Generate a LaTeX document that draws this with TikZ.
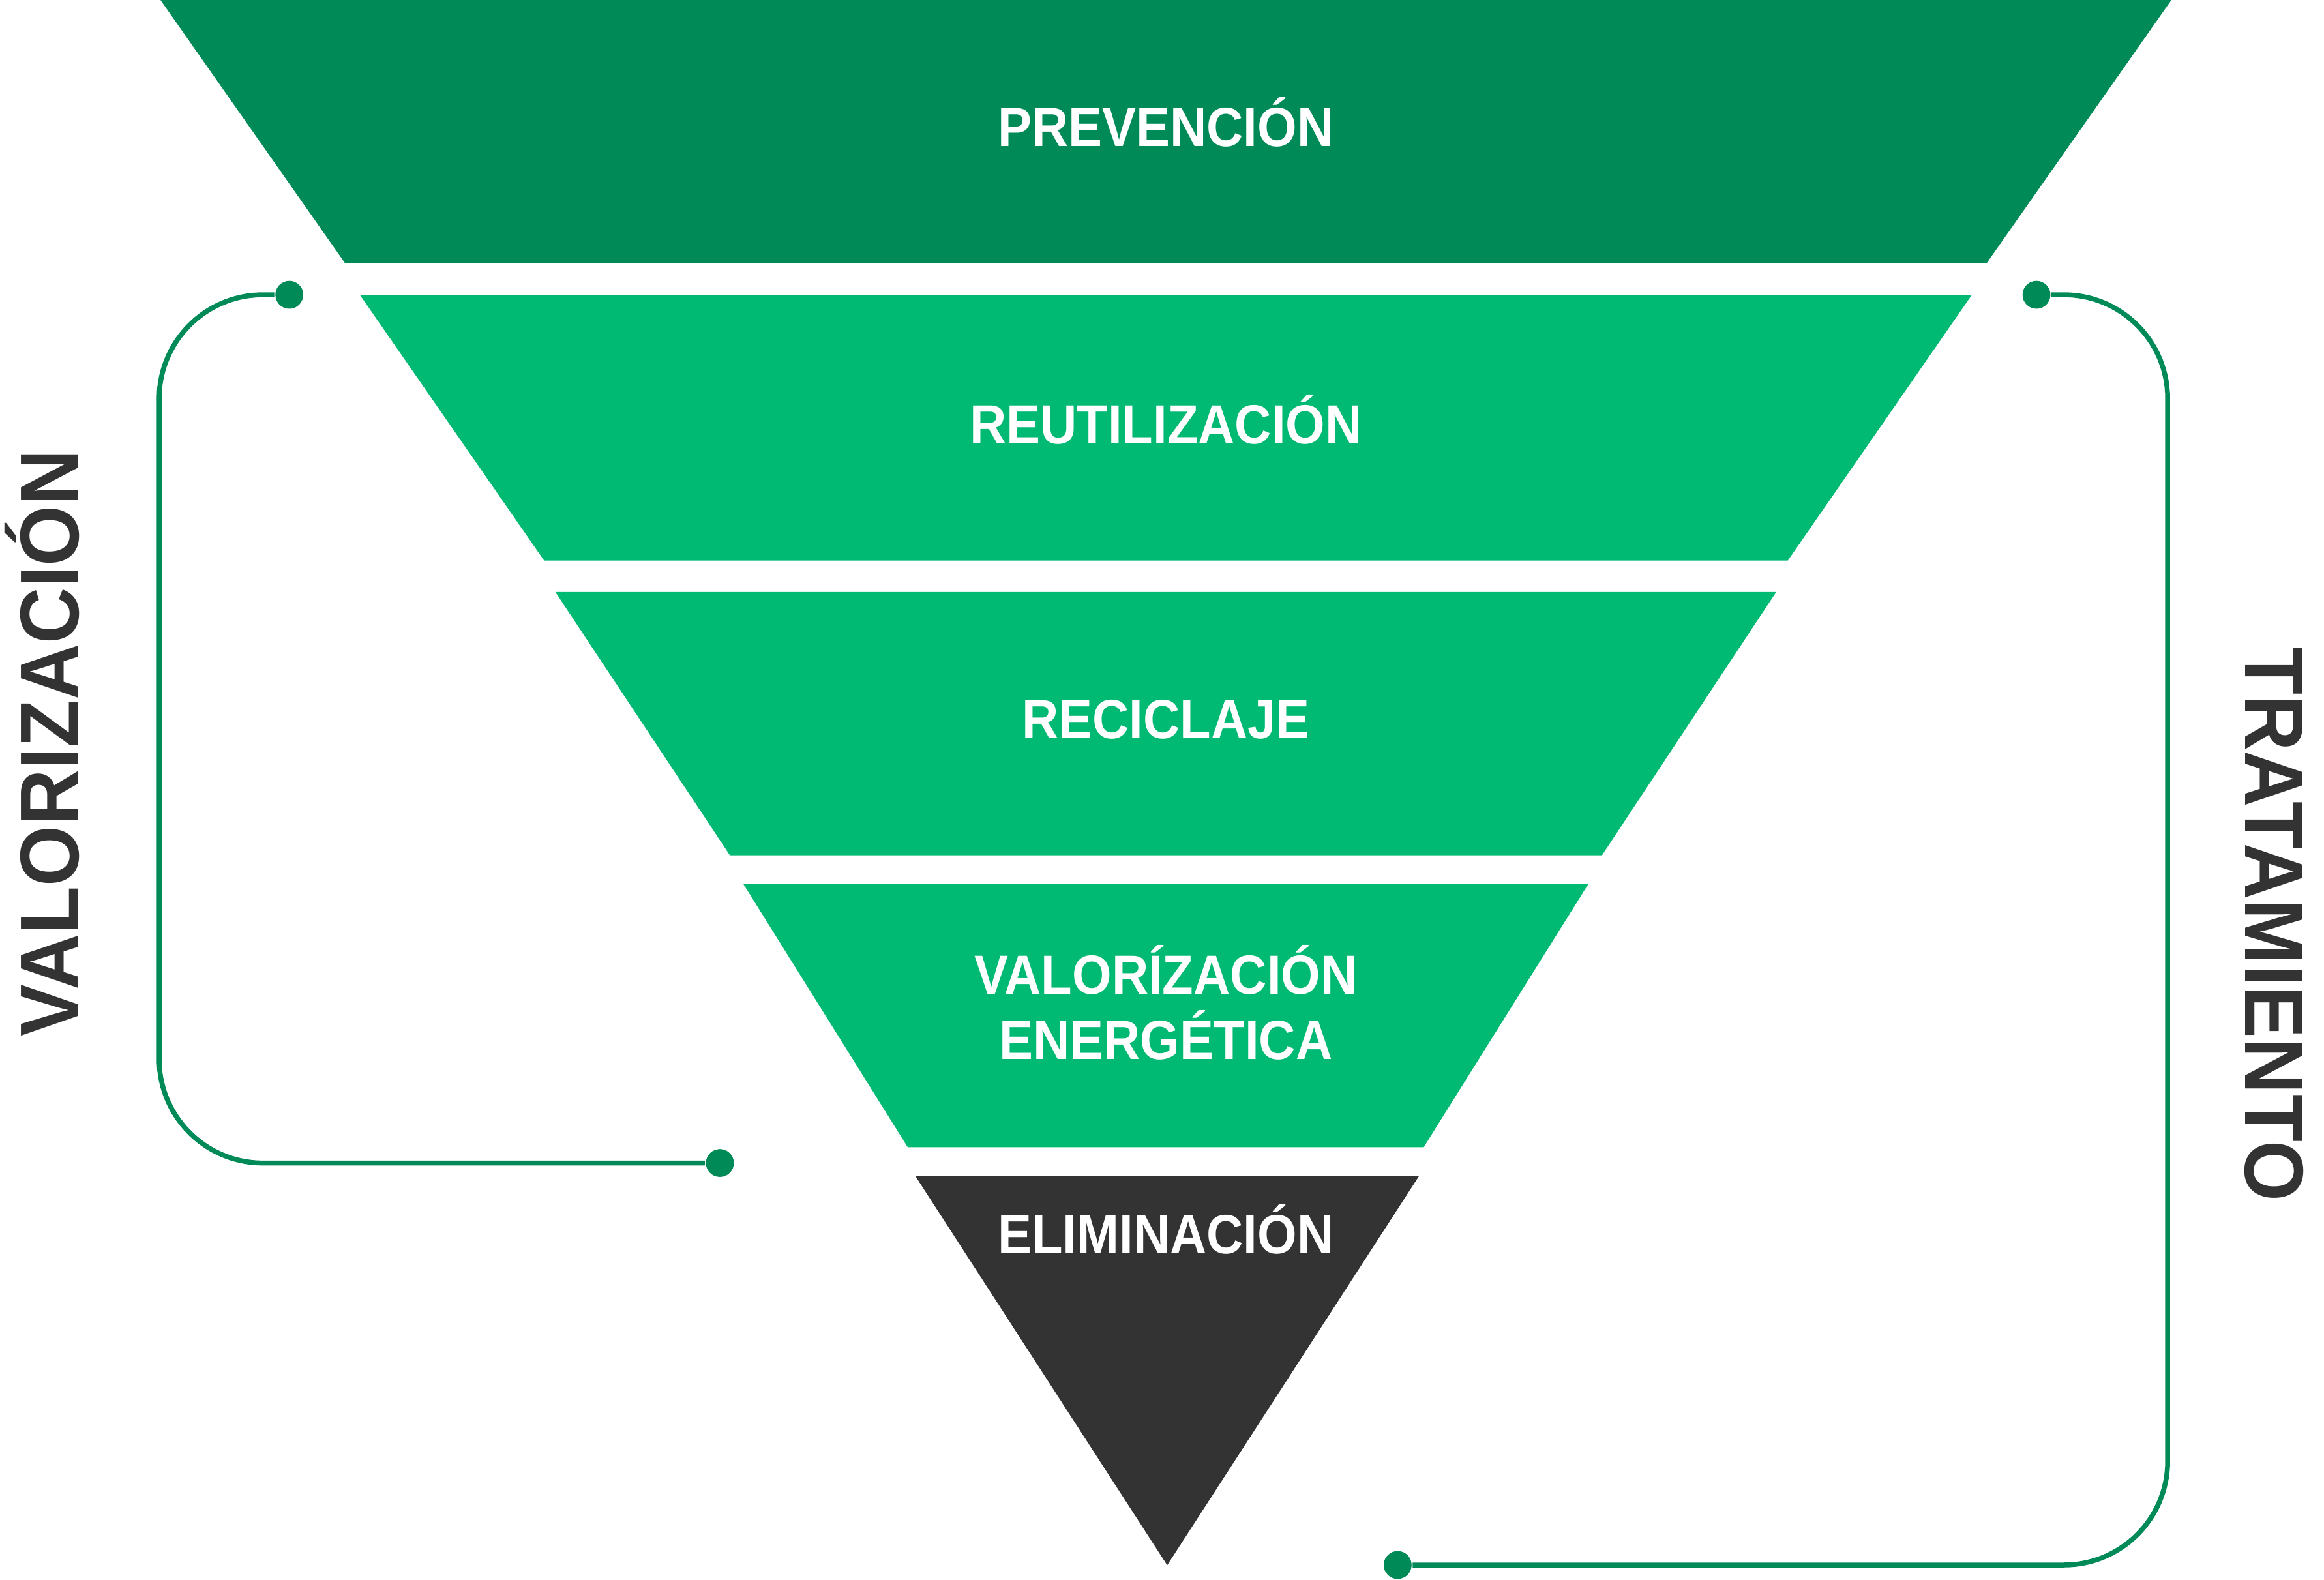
\documentclass[tikz,border=0pt]{standalone}
\usepackage{fontspec}
\setmainfont{Liberation Sans}
\newfontfamily\fasce[FakeStretch=0.92]{Liberation Sans}
\newfontfamily\lati[FakeStretch=0.935]{Liberation Sans}
\definecolor{verdescuro}{HTML}{008A57}
\definecolor{verde}{HTML}{00B973}
\definecolor{grigio}{HTML}{333333}

\begin{document}
\begin{tikzpicture}[x=0.1mm,y=-0.1mm,
  livello/.style={font=\fasce\bfseries\fontsize{10.6}{12.5}\selectfont,text=white,anchor=base,inner sep=0pt},
  lato/.style={font=\lati\bfseries\fontsize{16}{19}\selectfont,text=grigio,anchor=base,inner sep=0pt},
  punto/.style={circle,fill=verdescuro,minimum size=1.88mm,inner sep=0pt},
  staffa/.style={draw=verdescuro,line width=0.94pt,rounded corners=7mm}]

\useasboundingbox (0,0) rectangle (1568,1065.6);

\fill[verdescuro] (108.3,0) -- (1465,0) -- (1340.5,177.4) -- (232.7,177.4) -- cycle; % prima fascia
\fill[verde] (242.8,198.9) -- (1330.4,198.9) -- (1206.2,378.2) -- (367.1,378.2) -- cycle;
\fill[verde] (374.7,399.4) -- (1198.4,399.4) -- (1080.8,577.1) -- (492.5,577.1) -- cycle;
\fill[verde] (501.6,596.5) -- (1071.6,596.5) -- (960.5,774.1) -- (612.5,774.1) -- cycle;
\fill[grigio] (617.7,793.6) -- (957.3,793.6) -- (787.5,1056) -- cycle; % punta

\node[livello] (a) at (786.6,98.7) {PREVENCIÓN};
\node[livello] (b) at (786.6,299.4) {REUTILIZACIÓN};
\node[livello] (c) at (786.6,498.4) {RECICLAJE};
\node[livello] (d) at (786.6,670.5) {VALORÍZACIÓN};
\node[livello] (e) at (786.6,714.5) {ENERGÉTICA};
\node[livello] (f) at (786.6,846) {ELIMINACIÓN};

\node[lato,rotate=90] (g) at (52.8,501.2) {VALORIZACIÓN};
\node[lato,rotate=-90] (h) at (1514.8,623.5) {TRATAMIENTO};

\node[punto] (p1) at (195.2,198.9) {};
\node[punto] (p2) at (485.7,784.7) {};
\node[punto] (q1) at (1374,198.9) {};
\node[punto] (q2) at (943,1055.9) {};

\draw[staffa] (p1) -- (107.4,198.9) -- (107.4,784.7) -- (p2); % sinistra
\draw[staffa] (q1) -- (1462.5,198.9) -- (1462.5,1055.9) -- (q2); % destra

\end{tikzpicture}
\end{document}
